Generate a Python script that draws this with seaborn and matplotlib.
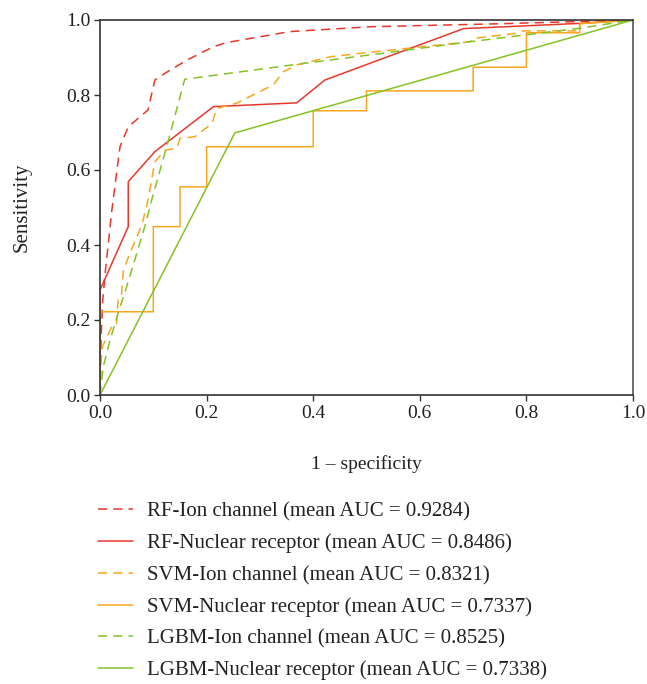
import numpy as np
import pandas as pd
import matplotlib
matplotlib.use("Agg")
import matplotlib.pyplot as plt
import seaborn as sns

sns.set_style("white")
plt.rcParams["font.family"] = ["Liberation Serif", "DejaVu Serif"]

# ROC curve vertices (false positive rate, true positive rate)
rf_ion_fpr = [0.0, 0.002, 0.005, 0.010, 0.016, 0.022, 0.0375, 0.053, 0.075, 0.090, 0.103, 0.122,
              0.163, 0.213, 0.238, 0.356, 0.507, 0.75, 1.0]
rf_ion_tpr = [0.0, 0.15, 0.25, 0.33, 0.41, 0.49, 0.662, 0.715, 0.742, 0.76, 0.84, 0.858,
              0.893, 0.929, 0.94, 0.969, 0.982, 0.99, 1.0]

rf_nr_fpr = [0.0, 0.0, 0.053, 0.053, 0.103, 0.213, 0.369, 0.422, 0.682, 0.90, 1.0]
rf_nr_tpr = [0.0, 0.28, 0.449, 0.569, 0.649, 0.769, 0.779, 0.84, 0.977, 0.991, 1.0]

svm_ion_fpr = [0.0, 0.0017, 0.005, 0.022, 0.031, 0.034, 0.040, 0.044, 0.056, 0.072, 0.081, 0.090,
               0.103, 0.122, 0.144, 0.150, 0.178, 0.210, 0.219, 0.256, 0.325, 0.344, 0.369,
               0.432, 0.507, 0.694, 0.70, 0.78, 0.788, 0.90, 0.90, 1.0]
svm_ion_tpr = [0.0, 0.085, 0.13, 0.182, 0.187, 0.253, 0.262, 0.333, 0.378, 0.431, 0.467, 0.52,
               0.622, 0.653, 0.658, 0.684, 0.689, 0.724, 0.764, 0.778, 0.827, 0.862, 0.88,
               0.902, 0.914, 0.942, 0.951, 0.964, 0.971, 0.971, 0.991, 1.0]

svm_nr_fpr = [0.0, 0.0, 0.1, 0.1, 0.15, 0.15, 0.2, 0.2, 0.4, 0.4, 0.5, 0.5, 0.7, 0.7,
              0.8, 0.8, 0.9, 0.9, 1.0]
svm_nr_tpr = [0.0, 0.222, 0.222, 0.449, 0.449, 0.555, 0.555, 0.662, 0.662, 0.758, 0.758,
              0.811, 0.811, 0.874, 0.874, 0.966, 0.966, 0.99, 1.0]

lgbm_ion_fpr = [0.0, 0.006, 0.019, 0.034, 0.050, 0.069, 0.084, 0.097, 0.125, 0.159, 0.381,
                0.507, 0.694, 0.90, 1.0]
lgbm_ion_tpr = [0.0, 0.075, 0.147, 0.218, 0.289, 0.378, 0.449, 0.52, 0.662, 0.842, 0.884,
                0.907, 0.942, 0.978, 1.0]

lgbm_nr_fpr = [0.0, 0.253, 1.0]
lgbm_nr_tpr = [0.0, 0.699, 1.0]

labels = [
    "RF-Ion channel (mean AUC = 0.9284)",
    "RF-Nuclear receptor (mean AUC = 0.8486)",
    "SVM-Ion channel (mean AUC = 0.8321)",
    "SVM-Nuclear receptor (mean AUC = 0.7337)",
    "LGBM-Ion channel (mean AUC = 0.8525)",
    "LGBM-Nuclear receptor (mean AUC = 0.7338)",
]
curves = [
    (rf_ion_fpr, rf_ion_tpr),
    (rf_nr_fpr, rf_nr_tpr),
    (svm_ion_fpr, svm_ion_tpr),
    (svm_nr_fpr, svm_nr_tpr),
    (lgbm_ion_fpr, lgbm_ion_tpr),
    (lgbm_nr_fpr, lgbm_nr_tpr),
]
colors = ["#e8372b", "#e8372b", "#f7a71c", "#f7a71c", "#84c225", "#84c225"]
dashed = [True, False, True, False, True, False]

fig = plt.figure(figsize=(6.47, 6.84), dpi=100)
ax = fig.add_axes([100 / 647, 1 - 395 / 684, 533 / 647, 375 / 684])

handles = []
for (fpr, tpr), lab, col, dsh in zip(curves, labels, colors, dashed):
    df = pd.DataFrame({"fpr": fpr, "tpr": tpr})
    sns.lineplot(data=df, x="fpr", y="tpr", sort=False, estimator=None, ax=ax,
                 color=col, linewidth=1.1, label=lab)
    line = ax.get_lines()[-1]
    if dsh:
        line.set_dashes((6, 4))
    handles.append(line)

ax.set_xlim(0, 1)
ax.set_ylim(0, 1)
ticks = [0.0, 0.2, 0.4, 0.6, 0.8, 1.0]
ax.set_xticks(ticks)
ax.set_yticks(ticks)
ax.set_xticklabels([f"{t:.1f}" for t in ticks])
ax.set_yticklabels([f"{t:.1f}" for t in ticks])
ax.tick_params(axis="both", which="both", direction="out", length=4, width=1,
               color="#333333", labelsize=14, labelcolor="#222222", pad=3,
               bottom=True, left=True, top=False, right=False)
for side in ["left", "bottom", "top", "right"]:
    ax.spines[side].set_color("#333333")
    ax.spines[side].set_linewidth(1.2)
ax.spines["right"].set_color("#555555")

ax.set_xlabel("1 \u2013 specificity", fontsize=14, color="#222222", labelpad=24)
ax.set_ylabel("Sensitivity", fontsize=15, color="#222222", labelpad=25)

ax.get_legend().remove()
fig.legend(handles=handles, labels=labels, loc="upper left",
           bbox_to_anchor=(98 / 647, 1 - 502 / 684), frameon=False, fontsize=15,
           borderpad=0, borderaxespad=0,
           handlelength=1.68, handletextpad=0.67, labelspacing=0.58,
           labelcolor="#222222")

fig.savefig("out.png", dpi=100)
